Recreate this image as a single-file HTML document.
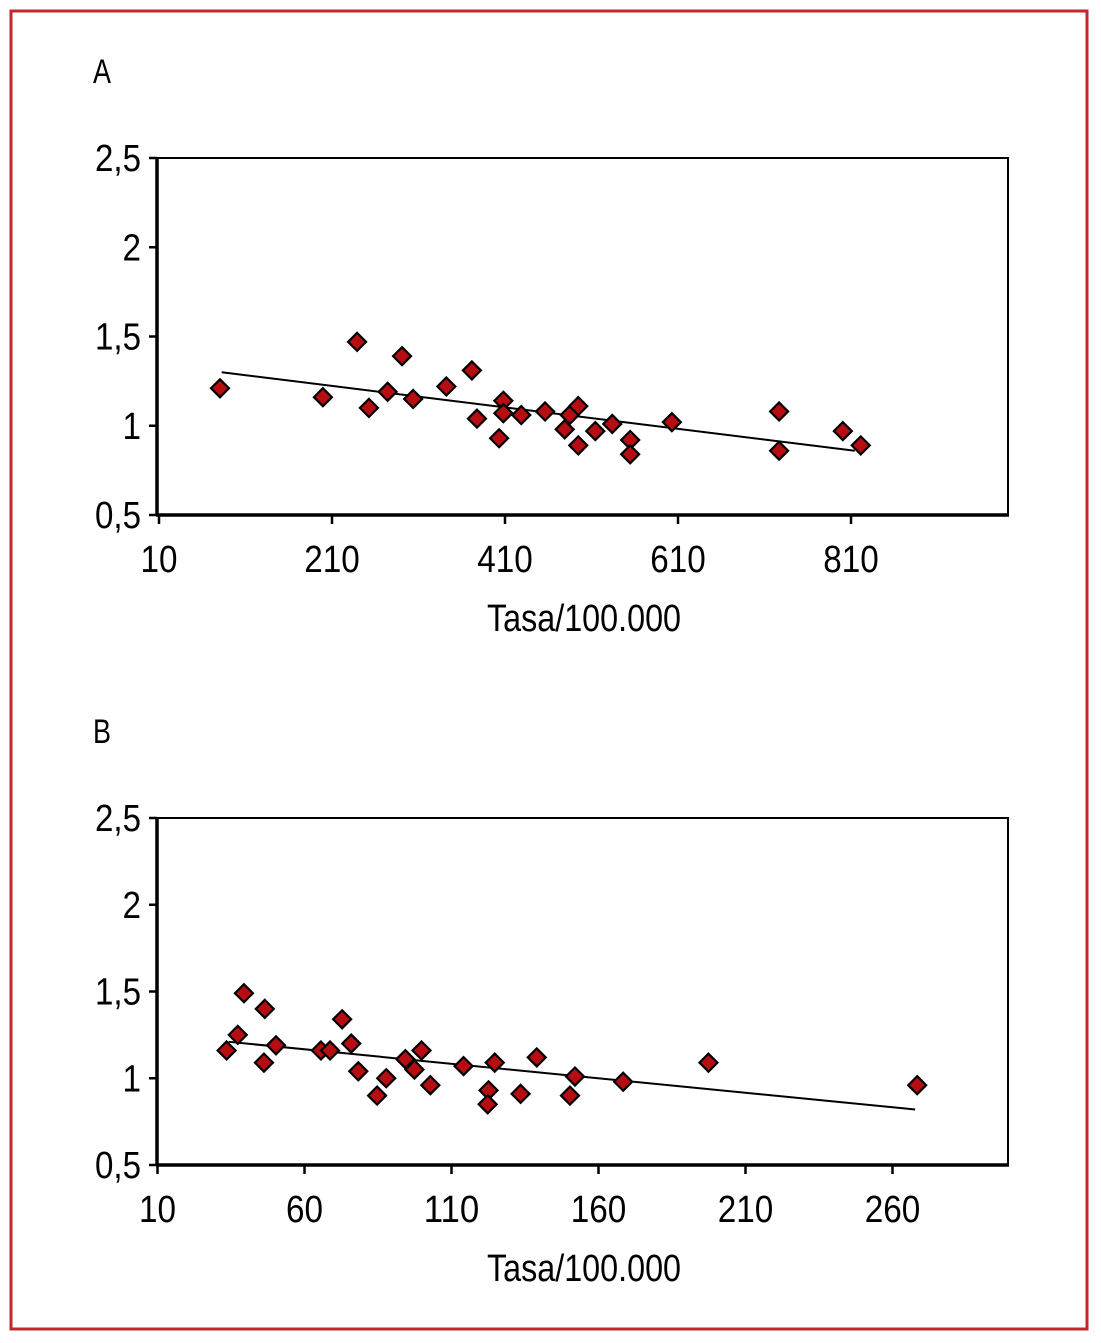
<!DOCTYPE html>
<html><head><meta charset="utf-8"><style>
html,body{margin:0;padding:0;background:#fff;}
svg{display:block;font-family:"Liberation Sans Narrow","Liberation Sans",sans-serif;}
</style></head><body>
<svg width="1101" height="1343" viewBox="0 0 1101 1343">
<rect x="11" y="11" width="1076" height="1318" fill="none" stroke="#c0282d" stroke-width="3"/>
<g id="chartA"></g>
<g id="chartB"></g>
</svg>
<script>
const aX=[80.5,199.5,239,252.7,274.3,291,303.8,342.2,371.7,377.6,403.2,408.1,408.1,428.8,456.3,479,484.8,494.7,494.7,514.4,534,554.7,554.7,602.9,726.9,726.9,800.6,821.3];
const aY=[1.21,1.16,1.47,1.10,1.19,1.39,1.15,1.22,1.31,1.04,0.93,1.14,1.07,1.06,1.08,0.98,1.06,1.11,0.89,0.97,1.01,0.92,0.84,1.02,1.08,0.86,0.97,0.89];
const aTrendX=[82.5,814.4];
const aTrendY=[1.30,0.86];
const aXTicks=[10,210,410,610,810];
const bX=[33.5,37.3,39.4,46.2,46.5,50.3,65.6,68.7,72.8,75.9,78.3,84.7,87.8,94.3,97.4,99.8,102.8,114.1,122.6,122.3,124.7,133.5,139.0,150.3,152.0,168.4,197.4,268.4];
const bY=[1.16,1.25,1.49,1.09,1.40,1.19,1.16,1.16,1.34,1.20,1.04,0.90,1.00,1.11,1.05,1.16,0.96,1.07,0.93,0.85,1.09,0.91,1.12,0.90,1.01,0.98,1.09,0.96];
const bTrendX=[34.2,267.7];
const bTrendY=[1.21,0.82];
const bXTicks=[10,60,110,160,210,260];
const yTicks=[0.5,1,1.5,2,2.5];
const yLabels=["0,5","1","1,5","2","2,5"];
const NS="http://www.w3.org/2000/svg";
function mk(parent,tag,attrs){const e=document.createElementNS(NS,tag);for(const k in attrs)e.setAttribute(k,attrs[k]);parent.appendChild(e);return e;}
function tw(s){let w=0;for(const c of s)w+=(c===','?9:18.5);return w;}
function draw(g,cfg,xs,ys,tx,ty,xticks){
  const L=cfg.left,R=1008,T=cfg.top,B=cfg.bottom;
  const sx=v=>cfg.x0+(v-cfg.xmin)*cfg.kx;
  const sy=v=>B-(v-0.5)/2*(B-T);
  const lab=mk(g,'text',{x:93,y:cfg.top-75,'font-size':34,fill:'#000',textLength:18,lengthAdjust:'spacingAndGlyphs'});lab.textContent=cfg.letter;
  
  
  const box=mk(g,'rect',{x:L,y:T,width:R-L,height:B-T,fill:'none',stroke:'#000','stroke-width':2});
  
  
  mk(g,'line',{x1:L,y1:T-1,x2:L,y2:B+1,stroke:'#000','stroke-width':3.5});
  mk(g,'line',{x1:L-1,y1:B,x2:R+1,y2:B,stroke:'#000','stroke-width':3.5});
  yTicks.forEach((v,i)=>{
    const y=sy(v);
    mk(g,'line',{x1:L-8,y1:y,x2:L,y2:y,stroke:'#000','stroke-width':2.5});
    const s=yLabels[i];
    const t=mk(g,'text',{x:L-16,y:y+13,'font-size':38,'text-anchor':'end',fill:'#000',textLength:tw(s),lengthAdjust:'spacingAndGlyphs'});
    t.textContent=s;
    
    
  });
  xticks.forEach(v=>{
    const x=sx(v);
    mk(g,'line',{x1:x,y1:B,x2:x,y2:B+9,stroke:'#000','stroke-width':2.5});
    const s=String(v);
    const t=mk(g,'text',{x:x,y:B+57,'font-size':38,'text-anchor':'middle',fill:'#000',textLength:tw(s),lengthAdjust:'spacingAndGlyphs'});
    t.textContent=s;
    
    
  });
  const xl=mk(g,'text',{x:584,y:B+116,'font-size':38,'text-anchor':'middle',fill:'#000',textLength:194,lengthAdjust:'spacingAndGlyphs'});
  xl.textContent='Tasa/100.000';
  
  
  const tl=mk(g,'line',{x1:sx(tx[0]),y1:sy(ty[0]),x2:sx(tx[1]),y2:sy(ty[1]),stroke:'#000','stroke-width':2});
  
  
  xs.forEach((v,i)=>{
    const cx=sx(v),cy=sy(ys[i]),r=9;
    const p=mk(g,'polygon',{points:`${cx},${cy-r} ${cx+r},${cy} ${cx},${cy+r} ${cx-r},${cy}`,fill:'#b50d12',stroke:'#000','stroke-width':2.2});
    
    
  });
}
draw(document.getElementById('chartA'),{letter:'A',left:157,top:158,bottom:515,x0:159,xmin:10,kx:173/200},aX,aY,aTrendX,aTrendY,aXTicks);
draw(document.getElementById('chartB'),{letter:'B',left:157,top:818,bottom:1165,x0:157.5,xmin:10,kx:147/50},bX,bY,bTrendX,bTrendY,bXTicks);
</script>
</body></html>
